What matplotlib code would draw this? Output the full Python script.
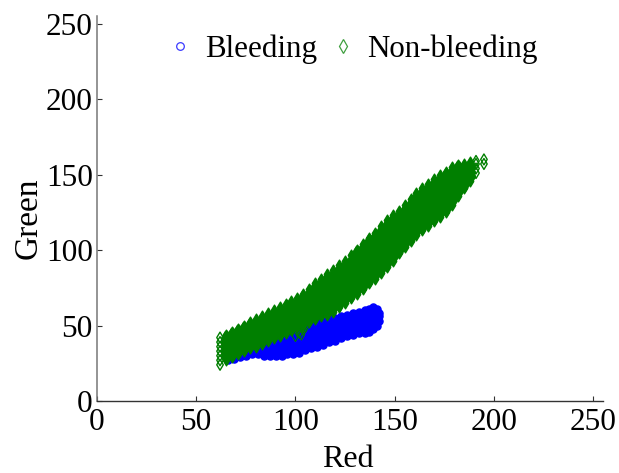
import matplotlib
matplotlib.use('Agg')
import matplotlib.pyplot as plt
from matplotlib.lines import Line2D

plt.rcParams['font.family'] = ['Liberation Serif', 'DejaVu Serif']

ticks = [0, 50, 100, 150, 200, 250]

# valeurs, colonne par colonne
blue_x = [66, 69, 72, 75, 78, 81, 84, 87, 90, 93, 96, 99, 102, 105, 108, 111, 114, 117,
          120, 123, 126, 129, 132, 135, 137, 139, 141, 142]
blue_y = [
    [27, 30, 34],
    [28, 31, 34, 36],
    [29, 32, 35, 38],
    [30, 33, 36, 39],
    [31, 34, 37, 40],
    [31, 34, 37, 40, 42],
    [30, 33, 36, 39, 42, 44],
    [30, 33, 36, 39, 42, 45],
    [30, 33, 36, 39, 42, 46],
    [30, 33, 36, 39, 42, 45, 48],
    [31, 34, 37, 40, 43, 46, 49],
    [31, 34, 37, 40, 43, 46, 50],
    [32, 35, 38, 41, 44, 47, 50],
    [34, 37, 40, 43, 46, 49, 52],
    [35, 38, 41, 44, 47, 50, 53],
    [36, 39, 42, 45, 48, 51, 53],
    [37, 40, 43, 46, 49, 52, 54],
    [39, 42, 45, 48, 51, 55],
    [40, 43, 46, 49, 52, 55],
    [42, 45, 48, 51, 54, 56],
    [43, 46, 49, 52, 55, 57],
    [44, 47, 50, 53, 56, 58],
    [45, 48, 51, 54, 57, 59],
    [45, 48, 51, 54, 57, 60],
    [46, 49, 52, 55, 58, 61],
    [48, 51, 54, 57, 60, 62],
    [50, 53, 56, 59, 61],
    [53, 56, 58],
]

green_x = [62, 65, 68, 71, 74, 77, 80, 83, 86, 89, 92, 95, 98, 101, 104, 107, 110, 113,
           116, 119, 122, 125, 128, 131, 134, 137, 140, 143, 146, 149, 152, 155, 158,
           161, 164, 167, 170, 173, 176, 179, 182, 185, 188, 191, 195]
green_y = [
    [24, 27, 30, 33, 36, 39, 42],
    [27, 30, 33, 36, 39, 42, 44],
    [29, 32, 35, 38, 41, 44, 46],
    [31, 34, 37, 40, 43, 46, 48],
    [33, 36, 39, 42, 45, 48, 50],
    [35, 38, 41, 44, 47, 50, 52],
    [36, 39, 42, 45, 48, 51, 54],
    [38, 41, 44, 47, 50, 53, 56],
    [40, 43, 46, 49, 52, 55, 58],
    [42, 45, 48, 51, 54, 57, 60],
    [43, 46, 49, 52, 55, 58, 62],
    [45, 48, 51, 54, 57, 60, 64],
    [47, 50, 53, 56, 59, 62, 66],
    [49, 52, 55, 58, 61, 64, 68],
    [50, 53, 56, 59, 62, 65, 68, 71],
    [52, 55, 58, 61, 64, 67, 70, 74],
    [54, 57, 60, 63, 66, 69, 72, 75, 78],
    [56, 59, 62, 65, 68, 71, 74, 77, 81],
    [57, 60, 63, 66, 69, 72, 75, 78, 81, 84],
    [59, 62, 65, 68, 71, 74, 77, 80, 83, 87],
    [62, 65, 68, 71, 74, 77, 80, 83, 86, 90],
    [65, 68, 71, 74, 77, 80, 83, 86, 89, 93],
    [68, 71, 74, 77, 80, 83, 86, 89, 92, 97],
    [71, 74, 77, 80, 83, 86, 89, 92, 95, 98, 100],
    [74, 77, 80, 83, 86, 89, 92, 95, 98, 101, 104],
    [78, 81, 84, 87, 90, 93, 96, 99, 102, 105, 108],
    [81, 84, 87, 90, 93, 96, 99, 102, 105, 108, 111],
    [85, 88, 91, 94, 97, 100, 103, 106, 109, 112, 116],
    [89, 92, 95, 98, 101, 104, 107, 110, 113, 116, 120],
    [93, 96, 99, 102, 105, 108, 111, 114, 117, 120, 123],
    [98, 101, 104, 107, 110, 113, 116, 119, 122, 126],
    [102, 105, 108, 111, 114, 117, 120, 123, 126, 130],
    [106, 109, 112, 115, 118, 121, 124, 127, 130, 134],
    [110, 113, 116, 119, 122, 125, 128, 131, 134, 138],
    [113, 116, 119, 122, 125, 128, 131, 134, 137, 141],
    [116, 119, 122, 125, 128, 131, 134, 137, 140, 144],
    [119, 122, 125, 128, 131, 134, 137, 140, 143, 147],
    [122, 125, 128, 131, 134, 137, 140, 143, 146, 150],
    [125, 128, 131, 134, 137, 140, 143, 146, 149, 152],
    [130, 133, 136, 139, 142, 145, 148, 151, 155],
    [136, 139, 142, 145, 148, 151, 154, 156],
    [141, 144, 147, 150, 153, 157],
    [146, 149, 152, 155, 158],
    [151, 154, 157, 159],
    [157, 160],
]

# petit groupe de losanges verts visibles par-dessus le bleu
patch_x = [100, 102, 104, 101, 103, 105]
patch_y = [43, 45, 47, 46, 44, 49]

blue = '#0000ff'
green = '#007f00'

fig = plt.figure(figsize=(6.19, 4.73), dpi=100)
ax = fig.add_axes([97 / 619, 1 - 401 / 473, 506 / 619, 385 / 473])

# losanges vides seulement aux deux bouts du nuage vert, le reste est rempli
for x, ys in zip(blue_x, blue_y):
    ax.scatter([x] * len(ys), ys, s=26, marker='o', color=blue, linewidths=1)
for x, ys in zip(green_x, green_y):
    if x == green_x[0] or x >= green_x[-2]:
        ax.scatter([x] * len(ys), ys, s=31, marker='d', facecolors='none',
                   edgecolors=green, linewidths=1)
    else:
        ax.scatter([x, x], [ys[0], ys[-1]], s=30, marker='d', color=green, linewidths=1)
        ax.scatter([x] * (len(ys) - 2), ys[1:-1], s=34, marker='d', color=green, linewidths=3.2)
ax.scatter(patch_x, patch_y, s=31, marker='d', facecolors='none', edgecolors=green, linewidths=0.8)

ax.set_xlim(0, 255)
ax.set_ylim(0, 255)
ax.set_xticks(ticks)
ax.set_yticks(ticks)
ax.tick_params(direction='in', length=3.6, width=0.8, labelsize=22.5, color='#333333')
ax.tick_params(axis='x', pad=5)
ax.tick_params(axis='y', pad=3)
ax.spines['top'].set_visible(False)
ax.spines['right'].set_visible(False)
ax.spines['left'].set_color('#777777')
ax.spines['left'].set_linewidth(1.1)
ax.spines['bottom'].set_color('#333333')
ax.spines['bottom'].set_linewidth(1.0)
ax.set_xlabel('Red', fontsize=23)
ax.set_ylabel('Green', fontsize=24)
ax.xaxis.set_label_coords((348 - 97) / 506, (401 - 459) / 385)
ax.yaxis.set_label_coords((28 - 97) / 506, (401 - 218) / 385)
ax.xaxis.label.set_verticalalignment('center')
ax.yaxis.label.set_verticalalignment('center')

handles = [
    Line2D([], [], ls='none', marker='o', ms=5.5, mfc='none', mec='#3a3aff', mew=0.9),
    Line2D([], [], ls='none', marker='d', ms=7, mfc='none', mec='#3f9f3f', mew=0.9),
]
ax.legend(handles, ['Bleeding', 'Non-bleeding'], ncol=2, frameon=False, fontsize=22.3,
          loc='center left', bbox_to_anchor=(152 / 619, 1 - 49 / 473),
          bbox_transform=fig.transFigure, borderaxespad=0,
          handlelength=1, handletextpad=0.3, columnspacing=0.34)

fig.savefig('out.png', dpi=100)
